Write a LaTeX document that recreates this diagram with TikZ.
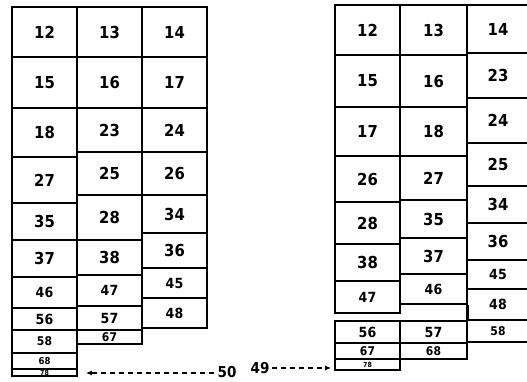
\documentclass[tikz,border=0pt]{standalone}
\usepackage{fontspec}
\setmainfont[FakeStretch=0.9]{DejaVu Sans}
\usetikzlibrary{arrows.meta}

\begin{document}
\begin{tikzpicture}[x=1pt,y=-1pt,
  cellbox/.style={draw,line width=1.6pt,inner sep=0pt,minimum width=65,font=\bfseries\fontsize{16.5}{16.5}\selectfont},
  midbox/.style={cellbox,font=\bfseries\fontsize{14}{14}\selectfont},
  smallbox/.style={cellbox,font=\bfseries\fontsize{12}{12}\selectfont},
  xsbox/.style={cellbox,font=\bfseries\fontsize{9.5}{9.5}\selectfont},
  xxsbox/.style={cellbox,font=\bfseries\fontsize{7}{7}\selectfont},
  lab/.style={inner sep=0pt,font=\bfseries\fontsize{15}{15}\selectfont},
  arr/.style={-{Latex[length=6pt,width=5pt]},line width=1.3pt,dash pattern=on 5pt off 4pt}]
\useasboundingbox (0,0) rectangle (527,381);
% left block
\node[cellbox,minimum height=50] (l12) at (44.5,32) {12};
\node[cellbox,minimum height=51] (l15) at (44.5,82.5) {15};
\node[cellbox,minimum height=49] (l18) at (44.5,132.5) {18};
\node[cellbox,minimum height=46] (l27) at (44.5,180) {27};
\node[cellbox,minimum height=37] (l35) at (44.5,221.5) {35};
\node[cellbox,minimum height=37] (l37) at (44.5,258.5) {37};
\node[midbox,minimum height=31] (l46) at (44.5,292.5) {46};
\node[midbox,minimum height=22] (l56) at (44.5,319) {56};
\node[smallbox,minimum height=23] (l58) at (44.5,341.5) {58};
\node[xsbox,minimum height=16] (l68) at (44.5,361) {68};
\node[xxsbox,minimum height=7] (l78) at (44.5,372.5) {78};
\node[cellbox,minimum height=50] (l13) at (109.5,32) {13};
\node[cellbox,minimum height=51] (l16) at (109.5,82.5) {16};
\node[cellbox,minimum height=44] (l23) at (109.5,130) {23};
\node[cellbox,minimum height=43] (l25) at (109.5,173.5) {25};
\node[cellbox,minimum height=45] (l28) at (109.5,217.5) {28};
\node[cellbox,minimum height=35] (l38) at (109.5,257.5) {38};
\node[midbox,minimum height=31] (l47) at (109.5,290.5) {47};
\node[midbox,minimum height=24] (l57) at (109.5,318) {57};
\node[smallbox,minimum height=14] (l67) at (109.5,337) {67};
\node[cellbox,minimum height=50] (l14) at (174.5,32) {14};
\node[cellbox,minimum height=51] (l17) at (174.5,82.5) {17};
\node[cellbox,minimum height=44] (l24) at (174.5,130) {24};
\node[cellbox,minimum height=43] (l26) at (174.5,173.5) {26};
\node[cellbox,minimum height=38] (l34) at (174.5,214) {34};
\node[cellbox,minimum height=35] (l36) at (174.5,250.5) {36};
\node[midbox,minimum height=30] (l45) at (174.5,283) {45};
\node[midbox,minimum height=30] (l48) at (174.5,313) {48};
% right block
\node[cellbox,minimum height=50] (r12) at (367.5,30) {12};
\node[cellbox,minimum height=52] (r15) at (367.5,81) {15};
\node[cellbox,minimum height=49] (r17) at (367.5,131.5) {17};
\node[cellbox,minimum height=46] (r26) at (367.5,179) {26};
\node[cellbox,minimum height=42] (r28) at (367.5,223) {28};
\node[cellbox,minimum height=37] (r38) at (367.5,262.5) {38};
\node[midbox,minimum height=32] (r47) at (367.5,297) {47};
\node[midbox,minimum height=22] (r56) at (367.5,332) {56};
\node[smallbox,minimum height=16] (r67) at (367.5,351) {67};
\node[xxsbox,minimum height=11] (r78) at (367.5,364.5) {78};
\node[cellbox,minimum width=67,minimum height=50] (r13) at (433.5,30) {13};
\node[cellbox,minimum width=67,minimum height=52] (r16) at (433.5,81) {16};
\node[cellbox,minimum width=67,minimum height=49] (r18) at (433.5,131.5) {18};
\node[cellbox,minimum width=67,minimum height=44] (r27) at (433.5,178) {27};
\node[cellbox,minimum width=67,minimum height=38] (r35) at (433.5,219) {35};
\node[cellbox,minimum width=67,minimum height=36] (r37) at (433.5,256) {37};
\node[midbox,minimum width=67,minimum height=30] (r46) at (433.5,289) {46};
\node[midbox,minimum width=67,minimum height=22] (r57) at (433.5,332) {57};
\node[smallbox,minimum width=67,minimum height=16] (r68) at (433.5,351) {68};
\node[cellbox,minimum width=62,minimum height=48] (r14) at (498,29) {14};
\node[cellbox,minimum width=62,minimum height=45] (r23) at (498,75.5) {23};
\node[cellbox,minimum width=62,minimum height=45] (r24) at (498,120.5) {24};
\node[cellbox,minimum width=62,minimum height=43] (r25) at (498,164.5) {25};
\node[cellbox,minimum width=62,minimum height=37] (r34) at (498,204.5) {34};
\node[cellbox,minimum width=62,minimum height=37] (r36) at (498,241.5) {36};
\node[midbox,minimum width=62,minimum height=29] (r45) at (498,274.5) {45};
\node[midbox,minimum width=62,minimum height=31] (r48) at (498,304.5) {48};
\node[smallbox,minimum width=62,minimum height=22] (r58) at (498,331) {58};
\draw[line width=1.6pt] (r46.south east) -- (r57.north east);
% labels
\node[lab] (n50) at (227,372) {50};
\node[lab] (n49) at (260,368) {49};
\draw[arr,shorten <=3pt,shorten >=8pt] ([yshift=-1pt]n50.west) -- ([yshift=-1pt]n50.west -| l78.east);
\draw[arr,shorten <=2pt,shorten >=3pt] (n49.east) -- (n49.east -| r78.west);
\end{tikzpicture}
\end{document}
